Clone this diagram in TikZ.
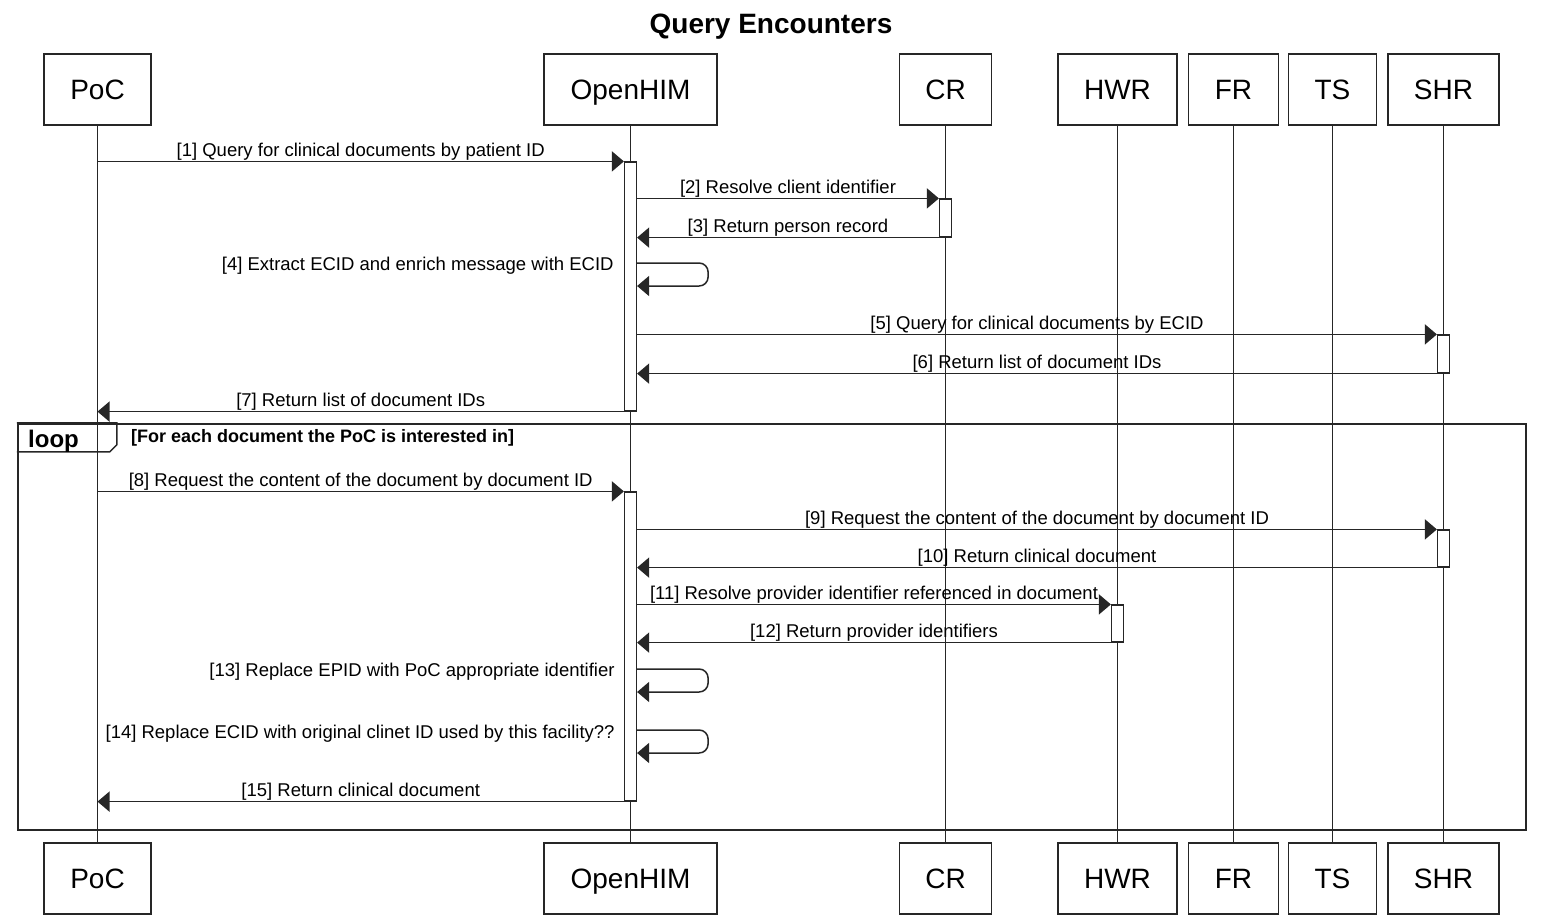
\documentclass[tikz,border=0pt]{standalone}
\usepackage{fontspec}
\setmainfont{Liberation Sans}
\usetikzlibrary{arrows.meta,calc}
\begin{document}
\begin{tikzpicture}[x=1pt,y=-1pt,
  part/.style={draw=black!85, line width=1.3pt, minimum height=71pt, inner sep=0pt, text height=20pt, text depth=0pt, font=\fontsize{28}{30}\selectfont},
  life/.style={draw=black!85, line width=1.3pt},
  act/.style={draw=black!85, fill=white, line width=1.2pt, minimum width=12pt, inner sep=0pt},
  msg/.style={draw=black!85, line width=1.5pt, -{Triangle[length=12pt,width=20pt]}},
  lbl/.style={font=\fontsize{18.5}{20}\selectfont, inner sep=0.3pt, text=black},
  frm/.style={draw=black!85, line width=2.4pt},
  slf/.style={msg, rounded corners=9pt}]
\useasboundingbox (0,0) rectangle (1543,916);
% title
\node[font=\bfseries\fontsize{28}{30}\selectfont, text height=20pt, text depth=0pt, inner sep=0pt] (title) at (771,23) {Query Encounters};
% participants top
\node[part, minimum width=107pt] (pocT) at (97.5,89.5) {PoC};
\node[part, minimum width=173pt] (himT) at (630.5,89.5) {OpenHIM};
\node[part, minimum width=92pt] (crT) at (945.5,89.5) {CR};
\node[part, minimum width=119pt] (hwrT) at (1117.5,89.5) {HWR};
\node[part, minimum width=90pt] (frT) at (1233.5,89.5) {FR};
\node[part, minimum width=88pt] (tsT) at (1332.5,89.5) {TS};
\node[part, minimum width=111pt] (shrT) at (1443.5,89.5) {SHR};
% participants bottom
\node[part, minimum width=107pt] (pocB) at (97.5,878.5) {PoC};
\node[part, minimum width=173pt] (himB) at (630.5,878.5) {OpenHIM};
\node[part, minimum width=92pt] (crB) at (945.5,878.5) {CR};
\node[part, minimum width=119pt] (hwrB) at (1117.5,878.5) {HWR};
\node[part, minimum width=90pt] (frB) at (1233.5,878.5) {FR};
\node[part, minimum width=88pt] (tsB) at (1332.5,878.5) {TS};
\node[part, minimum width=111pt] (shrB) at (1443.5,878.5) {SHR};
% lifelines
\foreach \p in {poc,him,cr,hwr,fr,ts,shr}{
  \draw[life] (\p T.south) -- (\p B.north);
}
% activations
\node[act, minimum height=249pt] (a1) at (630.5,286.5) {};
\node[act, minimum height=38pt] (c1) at (945.5,218) {};
\node[act, minimum height=38pt] (s1) at (1443.5,354) {};
\node[act, minimum height=309pt] (a2) at (630.5,646.5) {};
\node[act, minimum height=37pt] (s2) at (1443.5,548.5) {};
\node[act, minimum height=37pt] (h1) at (1117.5,623.5) {};
% messages, first block
\draw[msg] (pocT.south |- a1.north) -- node[lbl, above] {[1] Query for clinical documents by patient ID} (a1.north west);
\draw[msg] (a1.east |- c1.north) -- node[lbl, above] {[2] Resolve client identifier} (c1.north west);
\draw[msg] (c1.south west) -- node[lbl, above] {[3] Return person record} (a1.east |- c1.south);
\coordinate (s4a) at (a1.east |- 0,263);
\coordinate (s4b) at (a1.east |- 0,286);
\draw[slf] (s4a) -- ++(71,0) -- ++(0,23) -- (s4b);
\node[lbl, anchor=base east] (t4) at ($(s4a)+(-23,7)$) {[4] Extract ECID and enrich message with ECID};
\draw[msg] (a1.east |- s1.north) -- node[lbl, above] {[5] Query for clinical documents by ECID} (s1.north west);
\draw[msg] (s1.south west) -- node[lbl, above] {[6] Return list of document IDs} (a1.east |- s1.south);
\draw[msg] (a1.south west) -- node[lbl, above] {[7] Return list of document IDs} (pocT.south |- a1.south);
% loop frame
\node[frm, minimum width=1508pt, minimum height=406pt, inner sep=0pt] (loopf) at (772,627) {};
\draw[frm, line width=1.5pt] (loopf.north west) -- ++(100,0) -- ++(0,22) -- ++(-7,7) -- ++(-93,0);
\node[font=\bfseries\fontsize{24}{26}\selectfont, anchor=west, inner sep=0pt] (looplbl) at (28,441) {loop};
\node[font=\bfseries\fontsize{18}{20}\selectfont, anchor=west, inner sep=0pt] (cond) at (131,438) {[For each document the PoC is interested in]};
% messages, loop block
\draw[msg] (pocT.south |- a2.north) -- node[lbl, above] {[8] Request the content of the document by document ID} (a2.north west);
\draw[msg] (a2.east |- s2.north) -- node[lbl, above] {[9] Request the content of the document by document ID} (s2.north west);
\draw[msg] (s2.south west) -- node[lbl, above] {[10] Return clinical document} (a2.east |- s2.south);
\draw[msg] (a2.east |- h1.north) -- node[lbl, above] {[11] Resolve provider identifier referenced in document} (h1.north west);
\draw[msg] (h1.south west) -- node[lbl, above] {[12] Return provider identifiers} (a2.east |- h1.south);
\coordinate (s13a) at (a2.east |- 0,669);
\coordinate (s13b) at (a2.east |- 0,692);
\draw[slf] (s13a) -- ++(71,0) -- ++(0,23) -- (s13b);
\node[lbl, anchor=base east] (t13) at ($(s13a)+(-22,7)$) {[13] Replace EPID with PoC appropriate identifier};
\coordinate (s14a) at (a2.east |- 0,730);
\coordinate (s14b) at (a2.east |- 0,753);
\draw[slf] (s14a) -- ++(71,0) -- ++(0,23) -- (s14b);
\node[lbl, anchor=base east] (t14) at ($(s14a)+(-22,8)$) {[14] Replace ECID with original clinet ID used by this facility??};
\draw[msg] (a2.south west) -- node[lbl, above] {[15] Return clinical document} (pocT.south |- a2.south);
\end{tikzpicture}
\end{document}
